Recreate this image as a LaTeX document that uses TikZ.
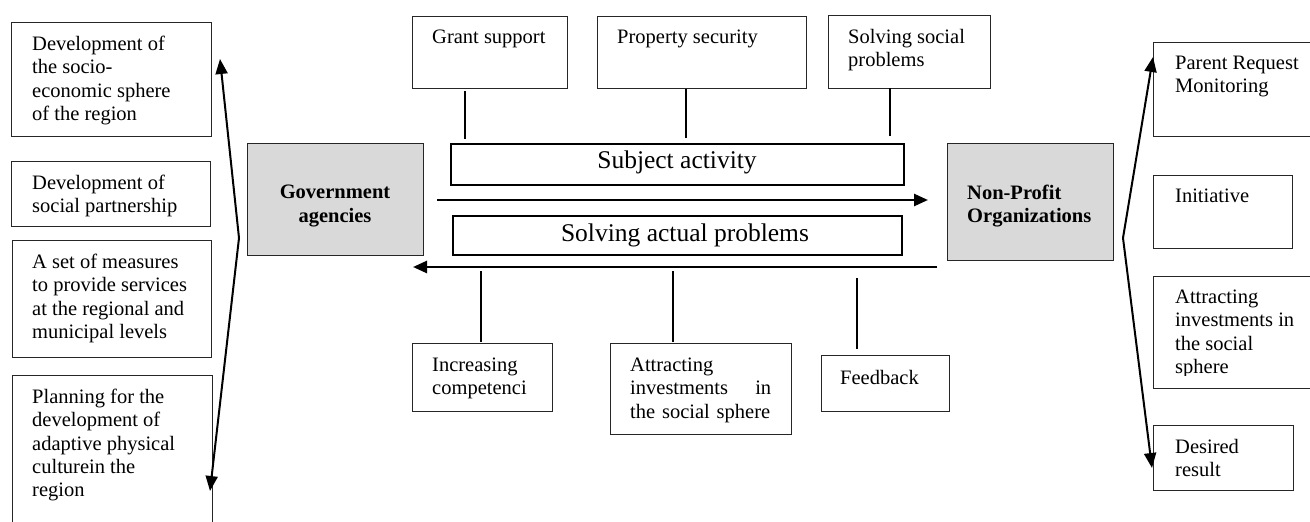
\documentclass[tikz,border=0pt]{standalone}
\usepackage{fontspec}
\setmainfont{Liberation Serif}
\usetikzlibrary{arrows.meta,calc}
\begin{document}
\begin{tikzpicture}[x=1pt,y=-1pt,
  box/.style={draw=black!85, line width=0.9pt, anchor=north west, inner sep=0pt, outer sep=0pt},
  thickbox/.style={box, draw=black, line width=1.8pt},
  hub/.style={box, fill=black!15},
  lbl/.style={inner sep=0pt, align=left, anchor=north west, font=\fontsize{20.5}{23.2}\selectfont},
  hubtext/.style={inner sep=0pt, font=\fontsize{20.5}{23.2}\selectfont\bfseries},
  big/.style={inner sep=0pt, anchor=base, font=\fontsize{25.5}{28}\selectfont},
  conn/.style={line width=1.6pt},
  arr/.style={line width=2.5pt, -{Triangle[length=14pt,width=12pt]}},
  darr/.style={line width=2pt, {Triangle[length=15pt,width=12pt]}-{Triangle[length=15pt,width=12pt]}},
  ]
\useasboundingbox (0,0) rectangle (1310,522);
\clip (0,0) rectangle (1310,522);
\fill[white] (0,0) rectangle (1310,522);

% left boxes
\node[box, minimum width=200pt, minimum height=114pt] (L1) at (11,22) {};
\node[lbl] (tL1) at (32,36) {Development of\\the socio-\\economic sphere\\of the region};
\node[box, minimum width=199pt, minimum height=65pt] (L2) at (11,161) {};
\node[lbl] (tL2) at (32,175) {Development of\\social partnership};
\node[box, minimum width=199pt, minimum height=117pt] (L3) at (12,240) {};
\node[lbl] (tL3) at (32,254) {A set of measures\\to provide services\\at the regional and\\municipal levels};
\node[box, minimum width=200pt, minimum height=170pt] (L4) at (12,375) {};
\node[lbl] (tL4) at (32,389) {Planning for the\\development of\\adaptive physical\\culturein the\\region};

% hubs
\node[hub, minimum width=176pt, minimum height=112pt] (G) at (247,143) {};
\node[hubtext, align=center] (tG) at (335,206) {Government\\agencies};
\node[hub, minimum width=166pt, minimum height=117pt] (N) at (947,143) {};
\node[hubtext, align=left, anchor=west] (tN) at (967,206) {Non-Profit\\Organizations};

% top boxes
\node[box, minimum width=155pt, minimum height=72pt] (T1) at (412,16) {};
\node[lbl] (tT1) at (432,30) {Grant support};
\node[box, minimum width=209pt, minimum height=72pt] (T2) at (597,16) {};
\node[lbl] (tT2) at (617,30) {Property security};
\node[box, minimum width=162pt, minimum height=73pt] (T3) at (828,15) {};
\node[lbl] (tT3) at (848,29) {Solving social\\problems};

% central bars
\node[thickbox, minimum width=453pt, minimum height=41pt] (SA) at (451,144) {};
\node[big] (tSA) at (677,168) {Subject activity};
\node[thickbox, minimum width=449pt, minimum height=39pt] (SP) at (453,216) {};
\node[big] (tSP) at (685,241) {Solving actual problems};

% bottom boxes
\node[box, minimum width=140pt, minimum height=68pt] (B1) at (412,343) {};
\node[lbl] (tB1) at (432,358) {Increasing\\competenci};
\node[box, minimum width=181pt, minimum height=91pt] (B2) at (610,343) {};
\node[lbl, text width=141pt] (tB2) at (630,358) {Attracting\\investments\hfill in\\the social sphere};
\node[box, minimum width=128pt, minimum height=56pt] (B3) at (821,355) {};
\node[lbl] (tB3) at (840,370) {Feedback};

% right boxes
\node[box, minimum width=180pt, minimum height=94pt] (R1) at (1153,42) {};
\node[lbl] (tR1) at (1175,56) {Parent Request\\Monitoring};
\node[box, minimum width=139pt, minimum height=73pt] (R2) at (1153,175) {};
\node[lbl] (tR2) at (1175,189) {Initiative};
\node[box, minimum width=180pt, minimum height=112pt] (R3) at (1153,276) {};
\begin{scope}
\clip (1150,270) rectangle (1320,375);
\node[lbl] (tR3) at (1175,290) {Attracting\\investments in\\the social\\sphere};
\end{scope}
\node[box, minimum width=140pt, minimum height=65pt] (R4) at (1153,425) {};
\node[lbl] (tR4) at (1175,439) {Desired\\result};

% connectors top
\draw[conn] ($(T1.south west)+(53,3)$) -- ($(SA.north west)+(14,-5)$);
\draw[conn] ($(T2.south west)+(89,1)$) -- ($(SA.north west)+(235,-6)$);
\draw[conn] ($(T3.south west)+(62,0)$) -- ($(SA.north west)+(439,-8)$);
% connectors bottom
\draw[conn] ($(SP.south west)+(28,16)$) -- ($(B1.north west)+(69,-1)$);
\draw[conn] ($(SP.south west)+(220,16)$) -- ($(B2.north west)+(63,-1)$);
\draw[conn] ($(SP.south west)+(404,23)$) -- ($(B3.north west)+(36,-6)$);

% main arrows
\coordinate (a1s) at ($(G.east)+(14,1)$);
\coordinate (a1e) at ($(a1s -| N.west)+(-19,0)$);
\draw[arr] (a1s) -- (a1e);
\coordinate (a2s) at ($(G.east)+(514,68)$);
\coordinate (a2e) at ($(a2s -| G.east)+(-10,0)$);
\draw[arr] (a2s) -- (a2e);

% side chevrons
\coordinate (lt) at (220,59);
\coordinate (lv) at (239,238);
\coordinate (lb) at (210,491);
\draw[darr] (lt) -- (lv) -- (lb);
\coordinate (rt) at (1153,57);
\coordinate (rv) at (1123,238);
\coordinate (rb) at (1152,468);
\draw[darr] (rt) -- (rv) -- (rb);
\end{tikzpicture}
\end{document}
